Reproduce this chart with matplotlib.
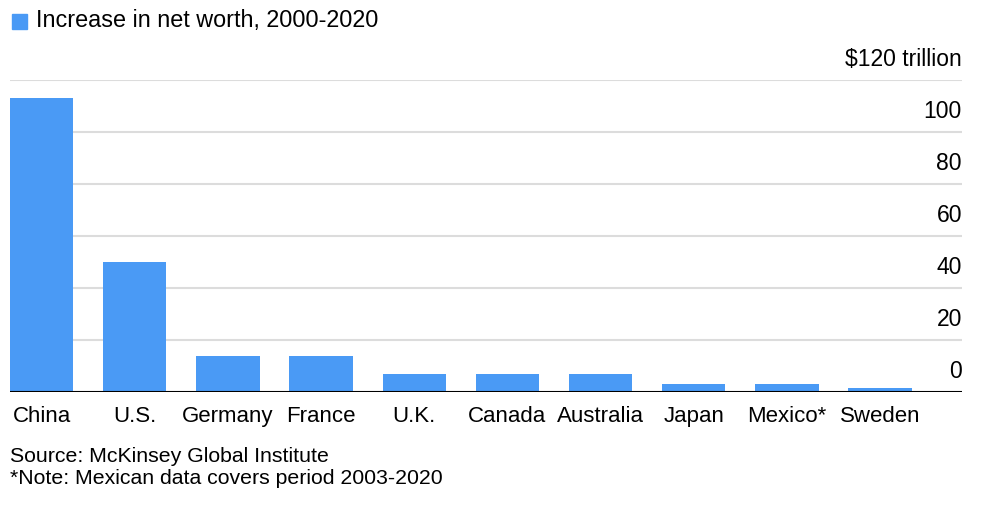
import numpy as np
import matplotlib.pyplot as plt
import matplotlib.transforms as mtransforms

plt.rcParams["font.family"] = ["Liberation Sans", "DejaVu Sans"]

# data (trillion USD)
countries = ["China", "U.S.", "Germany", "France", "U.K.", "Canada",
             "Australia", "Japan", "Mexico*", "Sweden"]
increase = [113, 50, 13.7, 13.7, 7.1, 7.1, 7.1, 3.0, 3.0, 1.6]
y_ticks = [0, 20, 40, 60, 80, 100, 120]
y_labels = ["0", "20", "40", "60", "80", "100", "$120 trillion"]

bar_color = "#4a9af5"

fig = plt.figure(figsize=(9.9, 5.14), dpi=100)
ax = fig.add_axes([10 / 990, 1 - 392 / 514, 952 / 990, 312 / 514])

x = np.arange(len(countries))
ax.bar(x, increase, width=0.68, color=bar_color, zorder=2)

ax.set_xlim(-0.34, 9.88)
ax.set_ylim(0, 120)

# gridlines, labels sit above each line on the right
for t in y_ticks[1:]:
    ax.axhline(t, color="#dcdcdc", linewidth=1.5, zorder=1)
ax.axhline(0, color="black", linewidth=1.5, zorder=3)

# shift labels up so they sit over the gridline
trans = mtransforms.blended_transform_factory(ax.transAxes, ax.transData) \
    + mtransforms.ScaledTranslation(0, 9 / 100, fig.dpi_scale_trans)
for t, lab in zip(y_ticks, y_labels):
    ax.text(1.0, t, lab, transform=trans, ha="right", va="bottom",
            fontsize=16.5, color="black")

ax.set_xticks(x)
ax.set_xticklabels(countries, fontsize=16)
ax.tick_params(axis="x", length=0, pad=10)
ax.set_yticks([])
for s in ax.spines.values():
    s.set_visible(False)

# legend
fig.patches.append(plt.Rectangle((12 / 990, 1 - 29 / 514), 15 / 990, 15 / 514,
                                 transform=fig.transFigure, color=bar_color))
fig.text(36 / 990, 1 - 21 / 514, "Increase in net worth, 2000-2020",
         fontsize=16.8, va="center", ha="left")

# footer
fig.text(10 / 990, 1 - 456 / 514, "Source: McKinsey Global Institute",
         fontsize=15.3, va="center", ha="left")
fig.text(10 / 990, 1 - 479 / 514, "*Note: Mexican data covers period 2003-2020",
         fontsize=15.3, va="center", ha="left")

plt.savefig("out.png", dpi=100)
